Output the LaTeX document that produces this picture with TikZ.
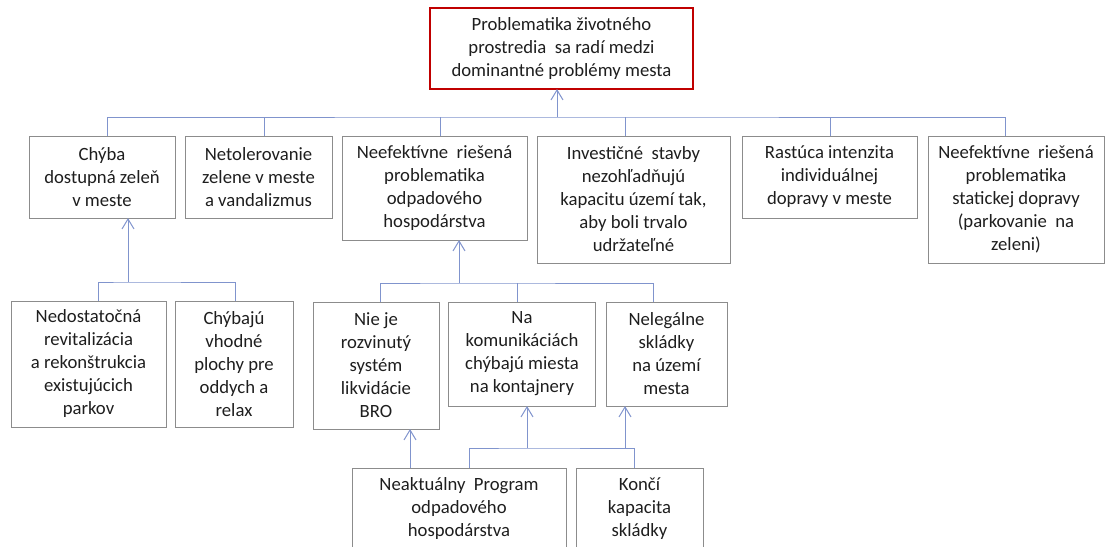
\documentclass[tikz,border=0pt]{standalone}
\usepackage{fontspec}
\setmainfont{Carlito}
\usetikzlibrary{arrows.meta}
\definecolor{boxgray}{RGB}{140,140,140}
\definecolor{boxred}{RGB}{192,0,0}
\definecolor{linkblue}{RGB}{128,148,205}
\definecolor{textdark}{RGB}{30,30,30}
\tikzset{
  cause/.style={draw=boxgray, line width=0.9pt, align=center, inner sep=0pt, outer sep=0pt,
    text=textdark, font=\fontsize{18.7}{23}\selectfont},
  mainbox/.style={cause, draw=boxred, line width=2pt},
  link/.style={linkblue, line width=1pt},
  uparrow/.style={link, -{Straight Barb[length=10pt,width=12pt]}},
}
\begin{document}
\begin{tikzpicture}[x=1pt,y=-1pt]
\useasboundingbox (0,0) rectangle (1105,546);
\clip (0,0) rectangle (1105,546);
% main problem
\node[mainbox, minimum width=263pt, minimum height=81pt] (top) at (561.5,48.5) {Problematika životného\\prostredia\ \ sa radí medzi\\dominantné problémy mesta};
% first row
\node[cause, minimum width=146pt, minimum height=82pt] (chyba) at (102,177) {Chýba\\dostupná zeleň\\v meste};
\node[cause, minimum width=147pt, minimum height=82pt] (netol) at (258.5,177) {Netolerovanie\\zelene v meste\\a vandalizmus};
\node[cause, minimum width=185pt, minimum height=104pt] (odpad) at (434.5,188) {Neefektívne\ \ riešená\\problematika\\odpadového\\hospodárstva};
\node[cause, minimum width=193pt, minimum height=127pt] (invest) at (633.5,199.5) {Investičné\ \ stavby\\nezohľadňujú\\kapacitu území tak,\\aby boli trvalo\\udržateľné};
\node[cause, minimum width=175pt, minimum height=82pt] (rast) at (829.5,177) {Rastúca intenzita\\individuálnej\\dopravy v meste};
\node[cause, minimum width=176pt, minimum height=127pt] (stat) at (1016,199.5) {Neefektívne\ \ riešená\\problematika\\statickej dopravy\\(parkovanie\ \ na\\zeleni)};
% second row
\node[cause, minimum width=155pt, minimum height=126pt] (revit) at (88.5,364) {Nedostatočná\\revitalizácia\\a rekonštrukcia\\existujúcich\\parkov};
\node[cause, minimum width=118pt, minimum height=126pt] (relax) at (234,364) {Chýbajú\\vhodné\\plochy pre\\oddych a\\relax};
\node[cause, minimum width=126pt, minimum height=127pt] (bro) at (376,365.5) {Nie je\\rozvinutý\\systém\\likvidácie\\BRO};
\node[cause, minimum width=147pt, minimum height=104pt] (kontaj) at (522,354) {Na\\komunikáciách\\chýbajú miesta\\na kontajnery};
\node[cause, minimum width=121pt, minimum height=104pt] (sklad) at (666.5,354) {Nelegálne\\skládky\\na území\\mesta};
% third row
\node[cause, minimum width=214pt, minimum height=82pt] (program) at (459,509) {Neaktuálny\ \ Program\\odpadového\\hospodárstva};
\node[cause, minimum width=127pt, minimum height=82pt] (kapac) at (639.5,509) {Končí\\kapacita\\skládky};
% connectors
\coordinate (bus1) at (557,117);
\draw[link] ([xshift=5pt]chyba.north) |- (bus1) -| ([xshift=-11pt]stat.north);
\foreach \n/\dx in {netol/5.5, odpad/5.5, invest/-8.5, rast/0.5}
  \draw[link] ([xshift=\dx pt]\n.north) -- ([xshift=\dx pt]\n.north |- bus1);
\draw[uparrow] (bus1) -- (bus1 |- top.south);
\coordinate (bus2) at (128,282);
\draw[link] ([xshift=9.5pt]revit.north) |- (bus2) -| ([xshift=1pt]relax.north);
\draw[uparrow] (bus2) -- (bus2 |- chyba.south);
\coordinate (bus3) at (459,283);
\draw[link] ([xshift=4pt]bro.north) |- (bus3) -| ([xshift=-13.5pt]sklad.north);
\draw[link] ([xshift=-5pt]kontaj.north) -- ([xshift=-5pt]kontaj.north |- bus3);
\draw[uparrow] (bus3) -- (bus3 |- odpad.south);
\coordinate (bus4) at (527,448);
\coordinate (bus4b) at (625,448);
\draw[link] ([xshift=10pt]program.north) |- (bus4) -| ([xshift=-5.5pt]kapac.north);
\draw[uparrow] (bus4) -- (bus4 |- kontaj.south);
\draw[uparrow] (bus4b) -- (bus4b |- sklad.south);
\draw[uparrow] ([xshift=-49pt]program.north) -- ([xshift=-49pt]program.north |- bro.south);
\end{tikzpicture}
\end{document}
